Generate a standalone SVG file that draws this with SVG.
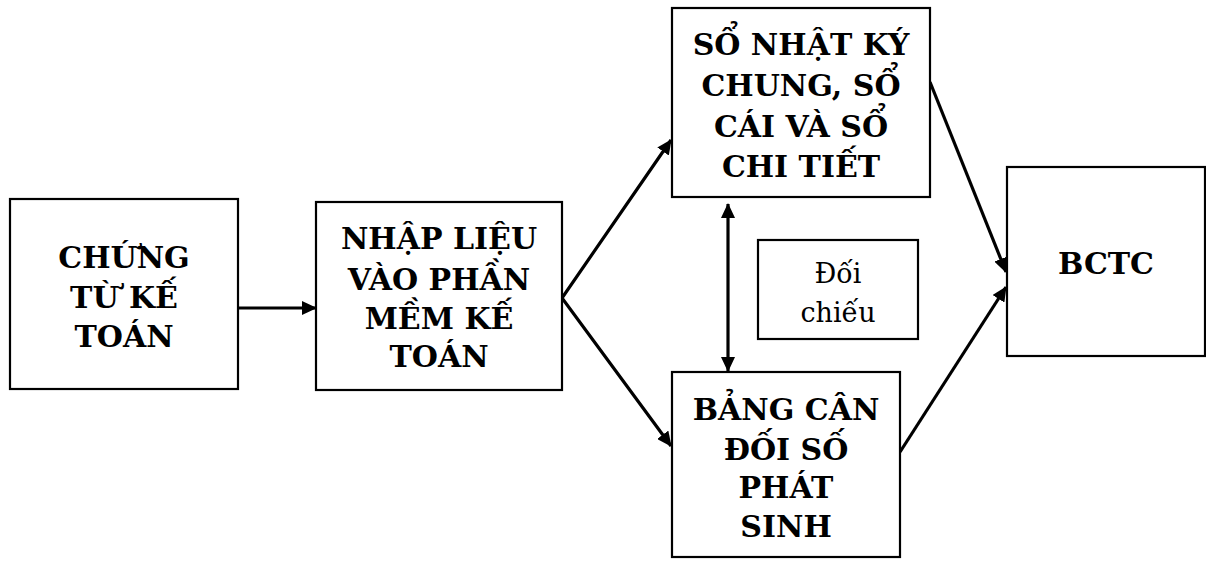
<svg xmlns="http://www.w3.org/2000/svg" width="1206" height="561" viewBox="0 0 1206 561">
<style>
.box{fill:#fff;stroke:#000;stroke-width:2.2}
.t{font-family:"DejaVu Serif","Liberation Serif",serif;font-weight:bold;font-size:30px;text-anchor:middle;fill:#000}
.r{font-family:"DejaVu Serif","Liberation Serif",serif;font-size:27px;text-anchor:middle;fill:#000}
.c{stroke:#000;stroke-width:3.2;fill:none}
</style>
<defs>
<marker id="ah" markerUnits="userSpaceOnUse" markerWidth="16" markerHeight="14" refX="14" refY="7" orient="auto-start-reverse">
<path d="M0,0 L15,7 L0,14 Z" fill="#000"/>
</marker>
</defs>
<rect width="1206" height="561" fill="#fff"/>
<g id="connectors">
<line class="c" x1="238" y1="308" x2="316" y2="308" marker-end="url(#ah)"/>
<polyline class="c" points="671,140 562,298 671,446" marker-start="url(#ah)" marker-end="url(#ah)"/>
<line class="c" x1="728" y1="204" x2="728" y2="371" marker-start="url(#ah)" marker-end="url(#ah)"/>
<line class="c" x1="930" y1="82" x2="1006" y2="272" marker-end="url(#ah)"/>
<line class="c" x1="900" y1="452" x2="1006" y2="287" marker-end="url(#ah)"/>
</g>
<g id="chung-tu">
<rect class="box" x="10" y="199" width="228" height="190"/>
<text class="t" x="124" y="268">CHỨNG</text>
<text class="t" x="124" y="308">TỪ KẾ</text>
<text class="t" x="124" y="347">TOÁN</text>
</g>
<g id="nhap-lieu">
<rect class="box" x="316" y="202" width="246" height="188"/>
<text class="t" x="439" y="249">NHẬP LIỆU</text>
<text class="t" x="439" y="290">VÀO PHẦN</text>
<text class="t" x="439" y="329">MỀM KẾ</text>
<text class="t" x="439" y="367">TOÁN</text>
</g>
<g id="so-nhat-ky">
<rect class="box" x="672" y="8" width="258" height="189"/>
<text class="t" x="801" y="55">SỔ NHẬT KÝ</text>
<text class="t" x="801" y="96">CHUNG, SỔ</text>
<text class="t" x="801" y="137">CÁI VÀ SỔ</text>
<text class="t" x="801" y="177">CHI TIẾT</text>
</g>
<g id="doi-chieu">
<rect class="box" x="758" y="240" width="160" height="99"/>
<text class="r" x="838" y="283">Đối</text>
<text class="r" x="838" y="322">chiếu</text>
</g>
<g id="bang-can-doi">
<rect class="box" x="672" y="372" width="228" height="185"/>
<text class="t" x="786" y="420">BẢNG CÂN</text>
<text class="t" x="786" y="460">ĐỐI SỐ</text>
<text class="t" x="786" y="498">PHÁT</text>
<text class="t" x="786" y="537">SINH</text>
</g>
<g id="bctc">
<rect class="box" x="1007" y="167" width="198" height="189"/>
<text class="t" x="1106" y="274">BCTC</text>
</g>
</svg>
